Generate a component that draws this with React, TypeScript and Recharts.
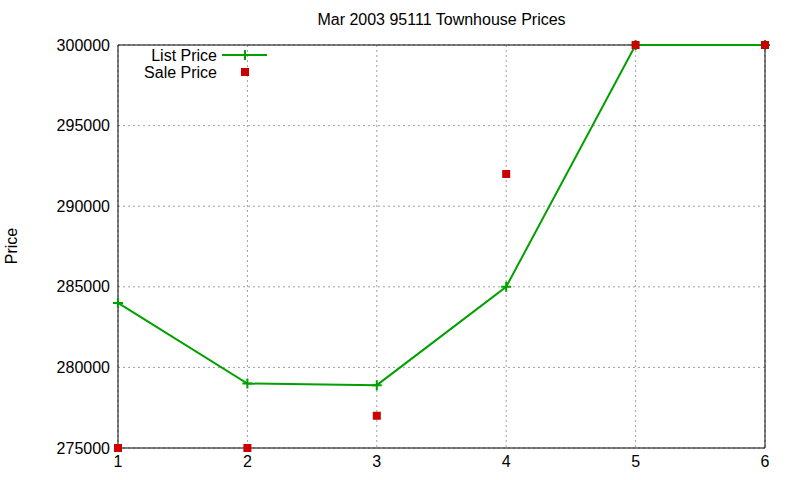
import React from 'react';
import { ComposedChart, Line, XAxis, YAxis, CartesianGrid, ReferenceLine } from 'recharts';

// values
const months = [1, 2, 3, 4, 5, 6];
const listPrice = [284000, 279000, 278900, 285000, 300000, 300000];
const salePrice = [275000, 275000, 277000, 292000, 300000, 300000];
const yTicks = [275000, 280000, 285000, 290000, 295000, 300000];

const data = months.map((m, i) => ({ x: m, list: listPrice[i], sale: salePrice[i] }));

const GREEN = '#00a000';
const RED = '#cc0000';
const FONT = '"Liberation Sans", Arial, sans-serif';

const PlusDot = (props: any) => {
  const { cx, cy } = props;
  if (cx == null || cy == null) return null;
  return (
    <path
      d={`M${cx - 5},${cy}H${cx + 5}M${cx},${cy - 5}V${cy + 5}`}
      stroke={GREEN}
      strokeWidth={2}
      fill="none"
    />
  );
};

const SquareDot = (props: any) => {
  const { cx, cy } = props;
  if (cx == null || cy == null) return null;
  return <rect x={cx - 4} y={cy - 4} width={8} height={8} fill={RED} />;
};

// gnuplot-style key, top left inside the plot
const KeyBox = () => (
  <svg width={800} height={480} style={{ position: 'absolute', left: 0, top: 0, pointerEvents: 'none' }}>
    <g fontFamily={FONT} fontSize={16} fill="#000">
      <text x={217} y={61} textAnchor="end">List Price</text>
      <text x={217} y={78} textAnchor="end">Sale Price</text>
    </g>
    <line x1={222} y1={55} x2={267} y2={55} stroke={GREEN} strokeWidth={2} />
    <path d="M240,55H250M245,50V60" stroke={GREEN} strokeWidth={2} />
    <rect x={241} y={68} width={8} height={8} fill={RED} />
  </svg>
);

export default function App() {
  return (
    <div style={{ position: 'absolute', left: 0, top: 0, width: 800, height: 480, background: '#fff', fontFamily: FONT }}>
      <ComposedChart width={800} height={480} data={data} margin={{ top: 45, right: 35, bottom: 0, left: 0 }}>
        <CartesianGrid stroke="#a0a0a0" strokeDasharray="2 3" />
        <XAxis
          dataKey="x"
          type="number"
          domain={[1, 6]}
          ticks={months}
          stroke="#000"
          tickLine={false}
          tick={{ fill: '#000', fontSize: 16, fontFamily: FONT }}
          height={32}
        />
        <YAxis
          type="number"
          domain={[275000, 300000]}
          ticks={yTicks}
          stroke="#000"
          tickLine={false}
          width={118}
          tick={{ fill: '#000', fontSize: 16, fontFamily: FONT }}
        />
        <ReferenceLine x={6} stroke="#000" />
        <ReferenceLine y={300000} stroke="#000" />
        <Line
          dataKey="list"
          stroke={GREEN}
          strokeWidth={2}
          dot={<PlusDot />}
          activeDot={false}
          isAnimationActive={false}
        />
        <Line
          dataKey="sale"
          stroke="none"
          dot={<SquareDot />}
          activeDot={false}
          isAnimationActive={false}
        />
      </ComposedChart>
      <KeyBox />
      <div style={{ position: 'absolute', left: 0, width: 883, top: 11, textAlign: 'center', fontSize: 16 }}>
        Mar 2003 95111 Townhouse Prices
      </div>
      <div
        style={{
          position: 'absolute',
          left: 12,
          top: 246,
          fontSize: 16,
          transform: 'translate(-50%, -50%) rotate(-90deg)',
          whiteSpace: 'nowrap',
        }}
      >
        Price
      </div>
    </div>
  );
}
